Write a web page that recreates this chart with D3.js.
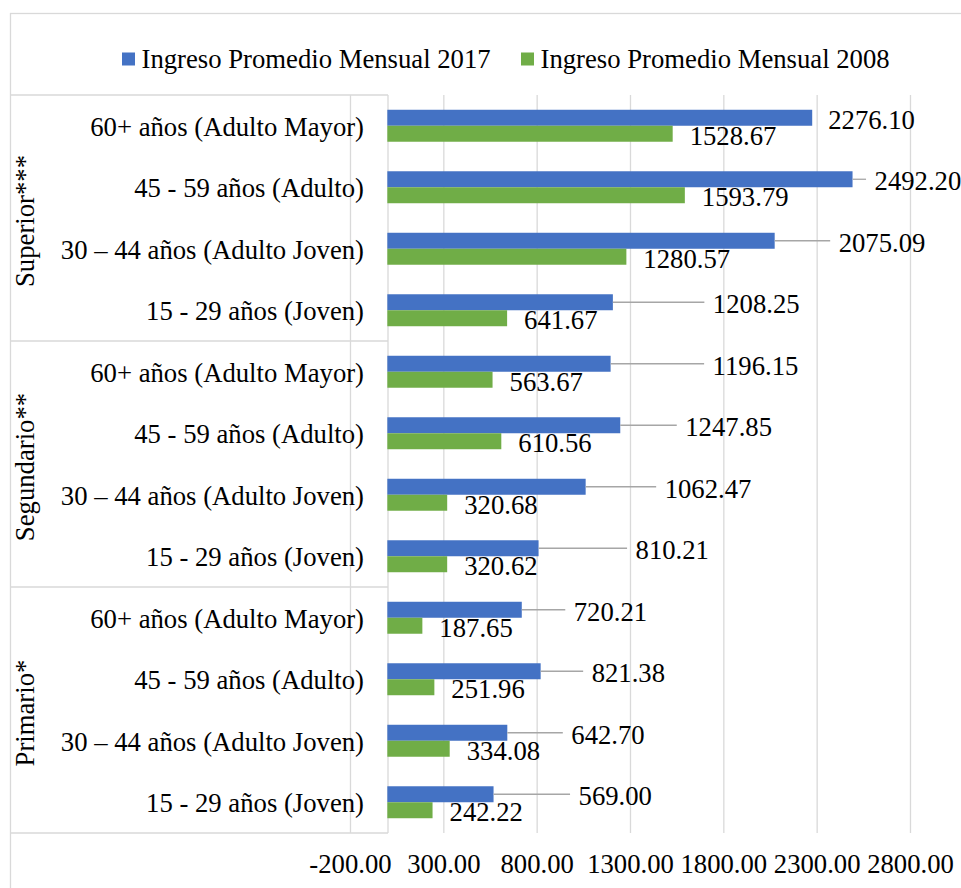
<html><head><title>Ingreso Promedio Mensual</title>
<style>
    body {
        margin: 0;
        padding: 0;
        background: #ffffff;
        overflow: hidden;
    }
    svg text {
        font-family: "Liberation Serif", "DejaVu Serif", serif;
        font-size: 26.7px;
        fill: #000000;
    }
    .grid line {
        stroke: #d9d9d9;
        stroke-width: 1.3;
    }
    .frame {
        stroke: #d9d9d9;
        stroke-width: 1.3;
        fill: none;
    }
    .leader {
        stroke: #a6a6a6;
        stroke-width: 1.3;
    }
</style>
</head>
<body>
    <svg id="chart" width="961" height="888"></svg>

    <script src="https://d3js.org/d3.v7.min.js"></script>
    <script>
        // education levels (outer category), age groups (inner category)
        const levels = ["Superior***", "Segundario**", "Primario*"];
        const ageGroups = ["60+ años (Adulto Mayor)", "45 - 59 años (Adulto)", "30 – 44 años (Adulto Joven)", "15 - 29 años (Joven)"];
        const seriesNames = ["Ingreso Promedio Mensual 2017", "Ingreso Promedio Mensual 2008"];
        const ingreso2017 = [2276.10, 2492.20, 2075.09, 1208.25, 1196.15, 1247.85, 1062.47, 810.21, 720.21, 821.38, 642.70, 569.00];
        const ingreso2008 = [1528.67, 1593.79, 1280.57, 641.67, 563.67, 610.56, 320.68, 320.62, 187.65, 251.96, 334.08, 242.22];
        const xTicks = [-200, 300, 800, 1300, 1800, 2300, 2800];
        const colors = ["#4472c4", "#70ad47"];

        // hand placed label offsets of the 2017 labels (px after bar end)
        const label2017Dx = [16, 22, 64, 100, 102, 65, 79, 97, 52, 51, 64, 85];

        const plotTop = 95, plotBottom = 833, axisX = 388;
        const svg = d3.select("#chart");

        const x = d3.scaleLinear().domain([-200, 2800]).range([350, 910]);
        const rows = d3.range(levels.length * ageGroups.length);
        const y = d3.scaleBand().domain(rows).range([plotTop, plotBottom])
            .paddingInner(0.48).paddingOuter(0.24);
        const ySub = d3.scaleBand().domain([0, 1]).range([0, y.bandwidth()]);

        // outer chart border
        svg.append("rect").attr("class", "frame")
            .attr("x", 10.5).attr("y", 13.5).attr("width", 1000).attr("height", 900);

        // vertical gridlines + tick labels
        svg.append("g")
            .attr("class", "grid")
            .attr("transform", `translate(0,${plotBottom})`)
            .call(d3.axisBottom(x).tickValues(xTicks).tickFormat(d => d.toFixed(2))
                .tickSize(-(plotBottom - plotTop)).tickPadding(21))
            .call(g => g.select(".domain").remove())
            .attr("font-family", null).attr("font-size", null);

        // category label boxes
        const box = svg.append("g");
        d3.range(levels.length + 1).forEach(i => {
            const yy = plotTop + i * ageGroups.length * y.step();
            box.append("line").attr("class", "frame")
                .attr("x1", 10).attr("x2", axisX).attr("y1", yy).attr("y2", yy);
        });
        box.append("line").attr("class", "frame")
            .attr("x1", axisX).attr("x2", axisX).attr("y1", plotTop).attr("y2", plotBottom);

        // inner category labels
        svg.append("g")
            .attr("transform", `translate(${axisX},0)`)
            .call(d3.axisLeft(y).tickSize(0).tickPadding(24).tickFormat(i => ageGroups[i % ageGroups.length]))
            .call(g => g.select(".domain").remove())
            .call(g => g.selectAll("text").attr("dy", null).attr("y", 10))
            .attr("font-family", null).attr("font-size", null);

        // outer category labels (rotated)
        levels.forEach((lv, k) => {
            const cy = plotTop + (k + 0.5) * ageGroups.length * y.step();
            svg.append("text")
                .attr("transform", `translate(34,${cy + 3}) rotate(-90)`)
                .attr("text-anchor", "middle")
                .text(lv);
        });

        // bars
        const series = [ingreso2017, ingreso2008];
        series.forEach((vals, s) => {
            svg.append("g").selectAll("rect")
                .data(vals)
                .join("rect")
                .attr("x", x(0))
                .attr("y", (d, i) => y(i) + ySub(s))
                .attr("width", d => x(d) - x(0))
                .attr("height", ySub.bandwidth())
                .attr("fill", colors[s]);
        });

        // 2017 labels with leader lines
        const cy17 = i => y(i) + ySub(0) + ySub.bandwidth() / 2;
        svg.append("g").selectAll("line")
            .data(ingreso2017.map((v, i) => ({v, i})).filter(d => label2017Dx[d.i] > 18))
            .join("line")
            .attr("class", "leader")
            .attr("x1", d => x(d.v))
            .attr("x2", d => x(d.v) + label2017Dx[d.i] - 8.5)
            .attr("y1", d => cy17(d.i))
            .attr("y2", d => cy17(d.i));

        svg.append("g").selectAll("text")
            .data(ingreso2017)
            .join("text")
            .attr("x", (d, i) => x(d) + label2017Dx[i])
            .attr("y", (d, i) => cy17(i) + 11)
            .text(d => d.toFixed(2));

        // 2008 labels
        svg.append("g").selectAll("text")
            .data(ingreso2008)
            .join("text")
            .attr("x", d => x(d) + 17)
            .attr("y", (d, i) => y(i) + ySub(1) + ySub.bandwidth() / 2 + 11)
            .text(d => d.toFixed(2));

        // legend
        const legendX = [122, 521];
        const legend = svg.append("g");
        seriesNames.forEach((name, s) => {
            legend.append("rect")
                .attr("x", legendX[s]).attr("y", 52.5)
                .attr("width", 13).attr("height", 13)
                .attr("fill", colors[s]);
            legend.append("text")
                .attr("x", legendX[s] + 19.5).attr("y", 67.5)
                .text(name);
        });
    </script>
</body>
</html>
